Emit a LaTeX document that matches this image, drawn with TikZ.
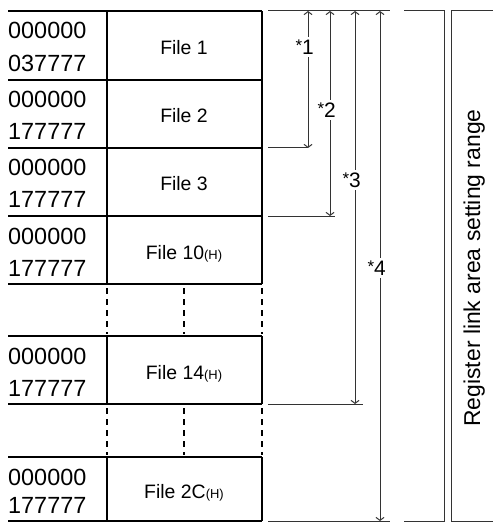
\documentclass[tikz,border=0pt]{standalone}
\usepackage{fontspec}
\setmainfont{Liberation Sans}
\usetikzlibrary{arrows.meta, positioning}

\newcommand{\hexmark}{{\fontsize{13}{13}\selectfont(H)}}
\newcommand{\starmark}{\llap{\raisebox{2.5bp}{\fontsize{17}{17}\selectfont*}}}

\tikzset{
  addr/.style={font=\fontsize{23.5}{24}\selectfont, anchor=base west, inner sep=0pt},
  filelbl/.style={font=\fontsize{19.5}{20}\selectfont, anchor=base, inner sep=0pt},
  rowline/.style={line width=1.3bp},
  wall/.style={line width=2.2bp},
  gapwall/.style={line width=2.2bp, dash pattern=on 6bp off 5bp},
  dimline/.style={black!80, line width=1bp},
  dimarrow/.style={dimline, {Straight Barb[length=3bp,width=8bp]}-{Straight Barb[length=3bp,width=8bp]}},
  dimlbl/.style={font=\fontsize{21}{21}\selectfont, fill=white, inner xsep=0.5bp, inner ysep=3bp},
}

\begin{document}
\begin{tikzpicture}[x=1bp, y=-1bp]
\useasboundingbox (0,0) rectangle (493,523);

% file rows: top/bottom/end address/name/label
\foreach \t/\b/\hi/\nm/\lab in {11/80/037777/f1/{File 1}, 80/148/177777/f2/{File 2},
    148/216/177777/f3/{File 3}, 216/284/177777/f10/{File 10\hexmark},
    336/404/177777/f14/{File 14\hexmark}, 457/521/177777/f2C/{File 2C\hexmark}}{
  \draw[rowline] (8,\t) -- (262,\t);
  \draw[rowline] (8,\b) -- (262,\b);
  \draw[wall] (107,\t) -- (107,\b);
  \draw[wall] (262,\t) -- (262,\b);
  \node[addr] (\nm lo) at (8,\t+28) {000000};
  \node[addr] (\nm hi) at (8,\b-8) {\hi};
  \node[filelbl] (\nm) at (184,{(\t+\b)/2+9}) {\lab};
}

% skipped files
\foreach \t/\b in {284/336, 404/457}{
  \draw[gapwall] (107,\t+4) -- (107,\b-2);
  \draw[gapwall] (184,\t+4) -- (184,\b-2);
  \draw[gapwall] (262,\t+4) -- (262,\b-2);
}

% setting ranges *1 .. *4
\draw[dimline] (268,11) -- (390,11);
\foreach \x/\y/\e/\ly/\n in {308/148/308/47/1, 330/216/335/110/2, 355/404/363/180/3, 380/521/390/268/4}{
  \coordinate (d\n top) at (\x,11);
  \coordinate (d\n bot) at (\x,\y);
  \coordinate (d\n end) at (\e,\y);
  \draw[dimline] (268,\y) -- (d\n end);
  \draw[dimarrow] (d\n top) -- (d\n bot);
  \node[dimlbl] (s\n) at (\x,\ly) {\starmark\n};
}

% register link area
\draw[dimline] (404,11) -- (444,11) -- (444,521) -- (404,521);
\draw[dimline] (493,11) -- (451,11) -- (451,521) -- (493,521);
\node[font=\fontsize{23}{23}\selectfont, rotate=90, anchor=base, inner sep=0pt] (range) at (480,268) {Register link area setting range};
\end{tikzpicture}
\end{document}
